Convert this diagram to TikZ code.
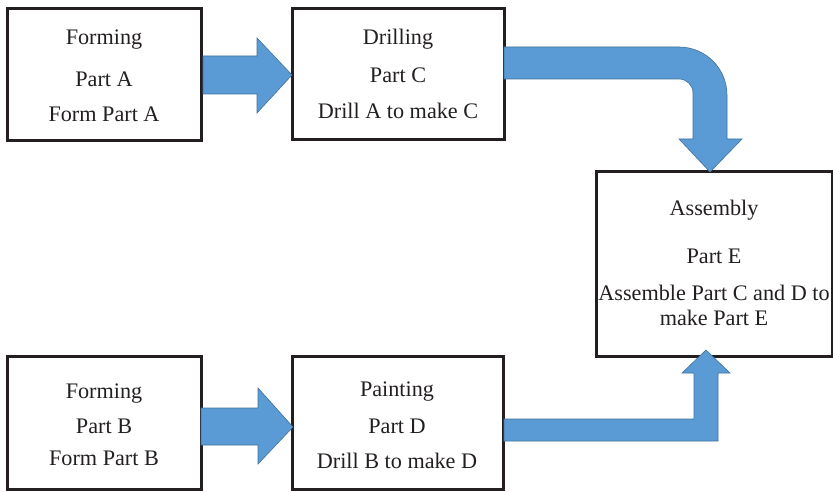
\documentclass[tikz,border=0pt]{standalone}
\usepackage{fontspec}
\setmainfont{Liberation Serif}
\definecolor{arrowfill}{HTML}{5B9BD5}
\definecolor{arrowline}{HTML}{41719C}
\definecolor{ink}{HTML}{231F20}
\begin{document}
\begin{tikzpicture}[x=1pt,y=1pt,
  box/.style={draw=ink,line width=3pt},
  lbl/.style={anchor=base,text=ink,inner sep=0pt,font=\fontsize{22.2}{26}\selectfont},
  fatarrow/.style={fill=arrowfill,draw=arrowline,line width=0.6pt,line join=miter}]
\useasboundingbox (0,0) rectangle (833,491);
% boxes
\draw[box] (7,350) rectangle (201,482);
\draw[box] (292,351) rectangle (504,482);
\draw[box] (596,135) rectangle (832,319);
\draw[box] (7,2) rectangle (201,135);
\draw[box] (292,2) rectangle (503,135);
% texts
\node[lbl] (a1) at (104,446) {Forming};
\node[lbl] (a2) at (104,404) {Part A};
\node[lbl] (a3) at (104,369) {Form Part A};
\node[lbl] (c1) at (398,446) {Drilling};
\node[lbl] (c2) at (398,408) {Part C};
\node[lbl] (c3) at (398,372) {Drill A to make C};
\node[lbl] (e1) at (714,276) {Assembly};
\node[lbl] (e2) at (714,228) {Part E};
\node[lbl] (e3) at (714,191) {Assemble Part C and D to};
\node[lbl] (e4) at (714,166) {make Part E};
\node[lbl] (b1) at (104,93) {Forming};
\node[lbl] (b2) at (104,58) {Part B};
\node[lbl] (b3) at (104,26) {Form Part B};
\node[lbl] (d1) at (397,95) {Painting};
\node[lbl] (d2) at (397,58) {Part D};
\node[lbl] (d3) at (397,23) {Drill B to make D};
% arrows
\draw[fatarrow] (203,397) -- (257,397) -- (257,378) -- (292,416) -- (257,453) -- (257,435) -- (203,435) -- cycle;
\draw[fatarrow] (201,46) -- (258,46) -- (258,27) -- (293,64) -- (258,103) -- (258,83) -- (201,83) -- cycle;
\draw[fatarrow] (504,444) -- (679,444) arc[start angle=90,end angle=0,radius=48] -- (727,352) -- (742,352) -- (710,319) -- (679,352) -- (693,352) -- (693,398) arc[start angle=0,end angle=90,radius=14] -- (504,412) -- cycle;
\draw[fatarrow] (504,50) -- (718,50) -- (718,118) -- (730,118) -- (706,141) -- (682,118) -- (694,118) -- (694,72) -- (504,72) -- cycle;
\end{tikzpicture}
\end{document}
